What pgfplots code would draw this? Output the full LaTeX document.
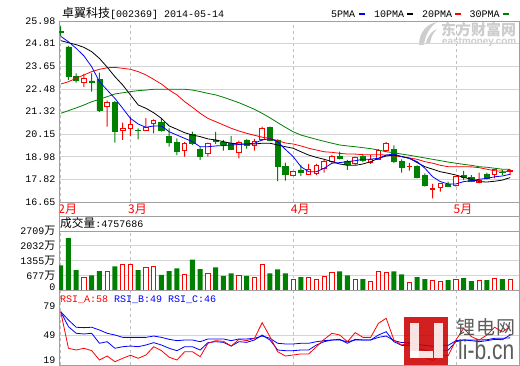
\documentclass[border=0pt]{standalone}
\usepackage{pgfplots}
\pgfplotsset{compat=1.18}
\usepackage{pgfplotstable}
\usepackage{fontspec}
\setmainfont{Liberation Sans}
\setmonofont{Liberation Mono}
\newfontfamily\cjk{Noto Sans CJK SC}
\definecolor{fr}{RGB}{160,160,160}
\definecolor{gr}{RGB}{212,212,212}
\definecolor{dg}{RGB}{190,190,190}
\definecolor{cg}{RGB}{0,128,0}
\definecolor{cr}{RGB}{255,0,0}
\definecolor{cb}{RGB}{0,0,255}
\definecolor{lbred}{RGB}{204,0,0}
\definecolor{wm}{RGB}{205,205,205}
\newcommand\wan{{\cjk\fontsize{11}{11}\selectfont 万}}

% green (falling) candles
\pgfplotstableread{
i O H L C
0 25.45 25.70 25.20 25.38
1 24.64 24.70 22.94 23.15
2 23.11 23.28 22.80 22.91
4 22.89 23.28 22.34 22.84
5 22.97 23.32 21.30 21.39
7 21.80 21.85 19.71 20.27
10 20.36 20.45 19.88 20.33
13 20.77 20.94 20.28 20.36
14 20.05 20.45 19.50 19.71
15 19.71 19.93 19.07 19.24
17 20.12 20.28 19.59 19.66
18 19.37 19.50 18.82 19.02
20 19.83 20.26 19.64 19.76
21 19.71 19.85 19.30 19.64
22 19.68 20.05 19.33 19.37
24 19.85 19.88 19.40 19.57
27 20.48 20.53 19.81 19.85
28 19.85 19.88 17.73 18.47
29 18.47 18.68 17.75 18.09
31 18.30 18.56 17.99 18.16
36 18.99 19.25 18.85 18.92
37 18.75 18.82 18.30 18.61
39 18.99 19.06 18.71 18.82
43 19.37 19.57 18.65 18.75
44 18.73 18.85 18.16 18.44
46 18.47 18.54 17.87 17.92
47 18.04 18.13 17.44 17.49
50 17.58 17.70 17.44 17.44
52 18.04 18.26 17.78 17.92
53 17.92 18.03 17.68 17.72
55 18.06 18.16 17.82 17.89
57 18.20 18.30 18.04 18.16
}\gc

% red (rising) candles
\pgfplotstableread{
i O H L C
3 22.80 23.25 22.59 23.01
6 21.56 21.87 20.53 21.77
8 20.33 20.74 19.85 20.46
9 20.46 21.02 20.05 20.65
11 20.36 20.97 20.33 20.48
12 20.71 20.91 20.19 20.83
16 19.30 19.74 18.99 19.64
19 19.16 19.71 18.99 19.64
23 19.19 19.81 18.90 19.71
25 19.57 19.91 19.30 19.78
26 19.85 20.53 19.81 20.46
30 18.04 18.26 17.99 18.21
32 18.09 18.61 18.04 18.30
33 18.13 18.61 18.03 18.51
34 18.39 18.85 18.16 18.76
35 18.73 19.07 18.65 18.99
38 18.61 18.99 18.57 18.95
40 18.68 19.07 18.61 18.85
41 18.85 19.37 18.82 19.30
42 19.30 19.74 19.23 19.64
45 18.46 18.65 18.27 18.49
48 17.30 17.58 16.84 17.33
49 17.41 17.58 17.18 17.58
51 17.51 17.99 17.44 17.95
54 17.68 18.16 17.61 17.75
56 18.06 18.33 17.87 18.30
58 18.20 18.33 18.04 18.25
}\rc

\pgfplotstableread{
i m5 m10 m20 m30
0 25.19 24.97 22.73 21.22
1 24.91 24.86 22.85 21.36
2 24.57 24.76 23.03 21.50
3 24.18 24.62 23.20 21.65
4 23.62 24.40 23.37 21.82
5 22.85 24.05 23.49 21.94
6 22.42 23.60 23.57 22.08
7 21.99 23.11 23.59 22.22
8 21.48 22.68 23.54 22.28
9 20.96 22.17 23.49 22.34
10 20.67 21.65 23.37 22.39
11 20.50 21.48 23.20 22.42
12 20.57 21.25 22.97 22.46
13 20.57 20.96 22.73 22.46
14 20.27 20.57 22.42 22.46
15 20.10 20.40 22.17 22.46
16 19.93 20.22 21.82 22.46
17 19.76 20.10 21.53 22.42
18 19.50 20.02 21.22 22.34
19 19.50 19.90 20.96 22.25
20 19.54 19.85 20.79 22.17
21 19.56 19.76 20.62 22.05
22 19.59 19.68 20.45 21.91
23 19.61 19.64 20.31 21.77
24 19.64 19.64 20.19 21.60
25 19.68 19.64 20.09 21.43
26 19.85 19.68 19.99 21.22
27 19.91 19.68 19.93 20.99
28 19.76 19.59 19.81 20.74
29 19.36 19.50 19.69 20.50
30 18.99 19.42 19.64 20.27
31 18.47 19.24 19.54 20.10
32 18.21 19.07 19.42 19.99
33 18.21 18.95 19.33 19.88
34 18.39 18.85 19.24 19.78
35 18.65 18.73 19.21 19.68
36 18.68 18.61 19.16 19.59
37 18.73 18.54 19.12 19.54
38 18.78 18.54 19.12 19.50
39 18.85 18.61 19.09 19.45
40 18.86 18.73 19.09 19.40
41 18.90 18.90 19.09 19.33
42 19.07 19.02 19.07 19.24
43 19.12 19.07 19.02 19.19
44 18.99 18.99 18.99 19.12
45 18.90 18.90 18.92 19.06
46 18.73 18.68 18.85 18.99
47 18.39 18.47 18.73 18.92
48 17.95 18.34 18.65 18.85
49 17.70 18.21 18.54 18.78
50 17.58 18.13 18.47 18.71
51 17.58 18.04 18.47 18.65
52 17.70 17.92 18.47 18.59
53 17.75 17.82 18.46 18.54
54 17.82 17.70 18.42 18.47
55 17.87 17.68 18.34 18.44
56 17.95 17.72 18.26 18.39
57 17.99 17.78 18.24 18.34
58 18.08 17.91 18.22 18.33
}\mas

\pgfplotstableread{
i g r
0 1129 nan
1 2379 nan
2 917 nan
3 nan 587
4 677 nan
5 872 nan
6 nan 858
7 1084 nan
8 nan 1174
9 nan 1174
10 917 nan
11 nan 1038
12 nan 1084
13 691 nan
14 872 nan
15 993 nan
16 nan 722
17 1400 nan
18 962 nan
19 nan 767
20 1038 nan
21 646 nan
22 767 nan
23 nan 677
24 646 nan
25 nan 572
26 nan 1174
27 767 nan
28 948 nan
29 767 nan
30 nan 497
31 587 nan
32 nan 587
33 nan 497
34 nan 632
35 nan 798
36 858 nan
37 677 nan
38 nan 497
39 497 nan
40 nan 391
41 nan 858
42 nan 798
43 858 nan
44 722 nan
45 nan 346
46 587 nan
47 497 nan
48 nan 452
49 nan 391
50 452 nan
51 nan 497
52 542 nan
53 406 nan
54 nan 452
55 452 nan
56 nan 542
57 497 nan
58 nan 476
}\vols

\pgfplotstableread{
i a b c
0 73.7 73.7 73.7
1 34.9 57.8 64.9
2 33.1 50.8 57.2
3 34.9 50.1 56.8
4 32.4 50.8 57.2
5 22.5 40.2 54.3
6 26.7 41.9 50.8
7 20.7 34.9 49.0
8 24.3 36.6 46.5
9 27.5 37.3 46.5
10 24.3 36.6 46.5
11 27.8 38.4 46.5
12 36.6 40.9 47.9
13 32.4 38.4 46.5
14 25.4 34.9 44.4
15 22.5 32.4 43.0
16 31.3 36.6 43.7
17 31.3 36.6 43.7
18 26.0 33.1 41.9
19 40.2 40.9 44.8
20 43.0 41.9 44.8
21 42.3 41.2 44.8
22 37.3 37.3 43.0
23 44.4 41.9 44.8
24 43.0 41.2 44.8
25 45.5 43.7 45.5
26 62.0 49.0 47.9
27 47.2 43.7 45.5
28 31.3 33.1 40.2
29 26.7 32.4 39.5
30 27.8 32.4 39.5
31 28.9 33.1 40.2
32 28.9 33.1 40.2
33 36.6 38.4 41.9
34 44.4 41.9 43.0
35 50.8 43.7 43.7
36 49.0 44.4 43.7
37 41.9 40.2 41.9
38 51.5 44.4 43.7
39 46.5 43.7 43.7
40 46.5 43.7 43.7
41 61.4 49.0 46.5
42 66.7 52.5 47.9
43 43.7 41.9 43.0
44 38.4 38.0 41.0
45 40.0 38.0 41.0
46 30.0 35.0 39.0
47 25.0 33.0 38.0
48 22.0 31.0 37.0
49 28.0 32.0 38.0
50 27.0 33.0 38.0
51 43.7 41.9 43.0
52 56.1 43.7 43.7
53 47.2 43.0 43.7
54 43.7 41.9 43.7
55 49.0 43.0 44.0
56 57.2 44.4 45.5
57 52.2 44.0 45.5
58 58.0 49.0 46.0
}\rsi

\pgfplotsset{
 panel/.style={scale only axis, width=460pt, xmin=-0.22, xmax=59.14,
   axis line style={draw=fr, line width=0.8pt},
   xtick={0,9,30,51}, xmajorgrids, ymajorgrids,
   x grid style={draw=dg, dash pattern=on 3pt off 3pt, line width=0.7pt},
   y grid style={draw=gr, line width=0.7pt},
   major tick length=0pt, minor tick length=0pt,
   yticklabel style={font=\ttfamily\fontsize{10}{10}\selectfont, anchor=east, inner sep=0pt, xshift=-3.5pt},
 },
 ov/.style={scale only axis, width=460pt, height=181pt, at={(59pt,163pt)}, anchor=south west,
   xmin=-0.22, xmax=59.14, ymin=16.65, ymax=25.98, hide axis},
}

\begin{document}
\begin{tikzpicture}
\fill[white] (0pt,0pt) rectangle (520pt,365pt);

% eastmoney watermark
\fill[wm] (419pt,320pt) .. controls (419pt,333pt) and (427pt,341pt) .. (437pt,343pt)
  .. controls (430pt,338pt) and (425pt,330pt) .. (424pt,320pt) -- cycle;
\fill[wm] (426pt,322pt) .. controls (428pt,330pt) and (432pt,334pt) .. (437pt,336pt)
  .. controls (433pt,332pt) and (431pt,328pt) .. (430pt,322pt) -- cycle;
\node[anchor=west, inner sep=0pt, text=wm, font=\cjk\bfseries\fontsize{15}{15}\selectfont] at (441pt,335pt) {东方财富网};
\node[anchor=west, inner sep=0pt, text=wm, font=\bfseries\fontsize{9.9}{10}\selectfont] at (442pt,322.5pt) {eastmoney.com};

% main price panel (frame, grid, ticks)
\begin{axis}[panel, at={(59pt,163pt)}, anchor=south west, height=181pt,
  ymin=16.65, ymax=25.98,
  ytick={16.65,17.82,18.98,20.15,21.32,22.48,23.65,24.81,25.98},
  yticklabels={16.65,17.82,18.98,20.15,21.32,22.48,23.65,24.81,25.98},
  xticklabels={2月,3月,4月,5月},
  xticklabel style={font=\cjk\fontsize{12}{12}\selectfont, text=cr, anchor=north west, inner sep=0pt, xshift=-2.5pt, yshift=-1.5pt},
]
\addplot[draw=none] coordinates {(0,20) (58,20)};
\end{axis}

% green candles: wicks then bodies
\begin{axis}[ov, ybar stacked]
\addplot[draw=none, fill=none, bar width=1pt] table[x=i, y=L] {\gc};
\addplot[fill=cg, draw=none, bar width=1pt] table[x=i, y expr=\thisrow{H}-\thisrow{L}] {\gc};
\end{axis}
\begin{axis}[ov, ybar stacked]
\addplot[draw=none, fill=none, bar width=5.2pt] table[x=i, y=C] {\gc};
\addplot[fill=cg, draw=cg, line width=0.7pt, bar width=5.2pt] table[x=i, y expr=\thisrow{O}-\thisrow{C}] {\gc};
\end{axis}
% red candles: wicks then hollow bodies
\begin{axis}[ov, ybar stacked]
\addplot[draw=none, fill=none, bar width=1pt] table[x=i, y=L] {\rc};
\addplot[fill=cr, draw=none, bar width=1pt] table[x=i, y expr=\thisrow{H}-\thisrow{L}] {\rc};
\end{axis}
\begin{axis}[ov, ybar stacked]
\addplot[draw=none, fill=none, bar width=4.6pt] table[x=i, y=O] {\rc};
\addplot[fill=white, draw=cr, line width=1pt, bar width=4.6pt] table[x=i, y expr=\thisrow{C}-\thisrow{O}] {\rc};
\end{axis}
% moving averages
\begin{axis}[ov]
\addplot[cg, line width=0.8pt] table[x=i, y=m30] {\mas};
\addplot[cr, line width=0.8pt] table[x=i, y=m20] {\mas};
\addplot[black, line width=0.8pt] table[x=i, y=m10] {\mas};
\addplot[cb, line width=0.8pt] table[x=i, y=m5] {\mas};
\end{axis}

% strips between panels
\draw[fr, line width=0.8pt] (59pt,149pt) -- (519pt,149pt);
\draw[fr, line width=0.8pt] (59pt,134pt) -- (59pt,163pt);
\draw[fr, line width=0.8pt] (519pt,134pt) -- (519pt,163pt);
\node[anchor=west, inner sep=0pt] at (60pt,141.5pt) {{\cjk\fontsize{11.7}{12}\selectfont 成交量}{\ttfamily\fontsize{10}{10}\selectfont :4757686}};

% volume panel
\begin{axis}[panel, at={(59pt,75pt)}, anchor=south west, height=59pt,
  ymin=0, ymax=2709,
  ytick={677,1355,2032,2709},
  yticklabels={677\wan,1355\wan,2032\wan,2709\wan},
  extra y ticks={0}, extra y tick labels={0},
  extra y tick style={grid=none, yticklabel style={yshift=3pt}},
  xticklabels={},
]
\addplot[ybar, bar width=5pt, bar shift=0pt, fill=cg, draw=none] table[x=i, y=g] {\vols};
\addplot[ybar, bar width=4.2pt, bar shift=0pt, fill=white, draw=cr, line width=1pt] table[x=i, y=r] {\vols};
\end{axis}

% RSI panel
\begin{axis}[panel, at={(59pt,0pt)}, anchor=south west, height=75pt,
  ymin=17.2, ymax=96.7,
  ymajorgrids=false, yminorgrids,
  minor ytick={49},
  minor y grid style={draw=gr, line width=0.7pt},
  ytick={49,79}, yticklabels={49,79},
  extra y ticks={19}, extra y tick labels={19},
  extra y tick style={grid=none, yticklabel style={yshift=3pt}},
  xticklabels={},
]
\addplot[cb, line width=0.8pt] table[x=i, y=c] {\rsi};
\addplot[cb, line width=0.8pt] table[x=i, y=b] {\rsi};
\addplot[cr, line width=0.8pt] table[x=i, y=a] {\rsi};
\end{axis}
\node[anchor=west, inner sep=0pt, font=\ttfamily\fontsize{10}{10}\selectfont] at (60pt,65pt) {\textcolor{cr}{RSI\_A:58} \textcolor{cb}{RSI\_B:49} \textcolor{cb}{RSI\_C:46}};

% title and legend
\node[anchor=west, inner sep=0pt] at (62pt,351.5pt) {{\cjk\fontsize{12}{12}\selectfont 卓翼科技}{\ttfamily\fontsize{10}{10}\selectfont [002369] 2014-05-14}};
\begin{scope}[font=\ttfamily\fontsize{10}{10}\selectfont]
\node[anchor=west, inner sep=0pt] at (331pt,351pt) {5PMA};
\fill[cb] (359pt,349.7pt) rectangle (365pt,352.3pt);
\node[anchor=west, inner sep=0pt] at (374pt,351pt) {10PMA};
\fill[black] (407pt,349.7pt) rectangle (413pt,352.3pt);
\node[anchor=west, inner sep=0pt] at (422pt,351pt) {20PMA};
\fill[cr] (455pt,349.7pt) rectangle (461pt,352.3pt);
\node[anchor=west, inner sep=0pt] at (469.5pt,351pt) {30PMA};
\fill[cg] (503pt,349.7pt) rectangle (509pt,352.3pt);
\end{scope}

% li-b.cn watermark
\begin{scope}[opacity=0.88]
\fill[lbred] (404pt,0pt) rectangle (448pt,48pt);
\fill[white] (409.5pt,6.7pt) rectangle (419.3pt,41.7pt);
\fill[white] (409.5pt,6.7pt) rectangle (433.3pt,14.3pt);
\fill[white] (434.3pt,6.7pt) rectangle (442.8pt,41.7pt);
\node[anchor=west, inner sep=0pt, text={rgb,255:red,70;green,70;blue,70}, font=\cjk\fontsize{19}{19}\selectfont] at (456pt,37.5pt) {锂\hspace{1pt}电\hspace{1pt}网};
\node[anchor=west, inner sep=0pt, text={rgb,255:red,70;green,70;blue,70}, font=\fontsize{21}{21}\selectfont, yscale=1.3] at (458pt,15.5pt) {li-b.cn};
\end{scope}

\pgfresetboundingbox
\useasboundingbox (0pt,0pt) rectangle (520pt,365pt);
\end{tikzpicture}
\end{document}
